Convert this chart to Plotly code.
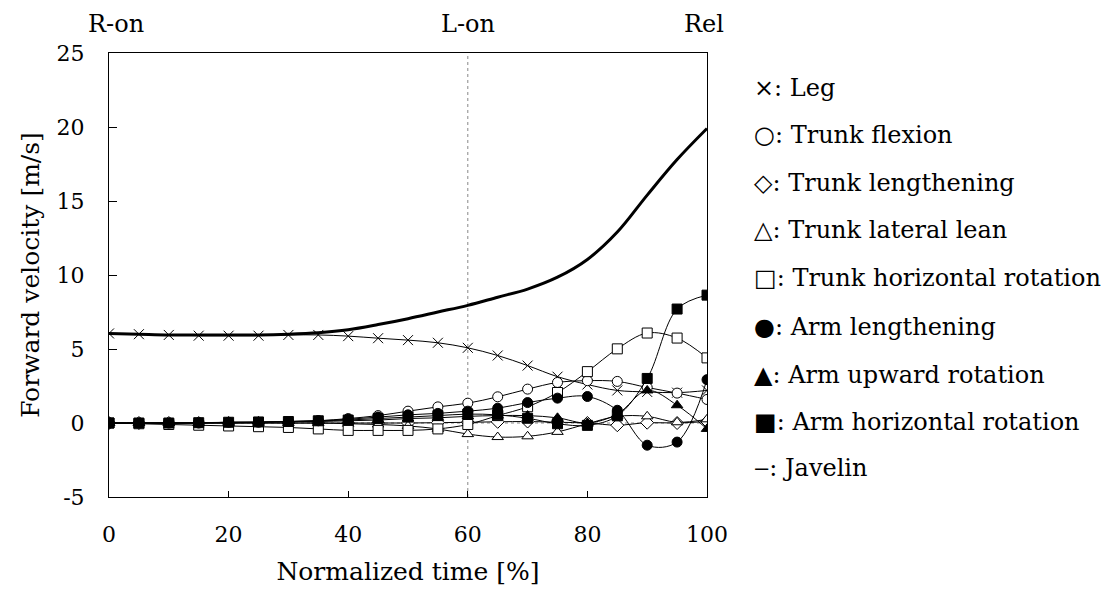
import plotly.graph_objects as go

time_pct = [0, 5, 10, 15, 20, 25, 30, 35, 40, 45, 50, 55, 60, 65, 70, 75, 80, 85, 90, 95, 100]

leg = [6.05, 6.0, 5.95, 5.9, 5.9, 5.9, 5.95, 5.95, 5.87, 5.73, 5.6, 5.42, 5.08, 4.56, 3.88, 3.13, 2.6, 2.2, 2.1, 2.05, 2.2]
trunk_flexion = [0, 0, 0, 0, 0, 0.05, 0.1, 0.15, 0.3, 0.5, 0.8, 1.09, 1.34, 1.77, 2.29, 2.74, 2.86, 2.81, 2.4, 2.02, 1.59]
trunk_lengthening = [0, 0, 0, 0, 0, 0, 0, 0, 0, 0, 0, 0.02, 0.05, 0.08, 0.1, 0.05, 0.0, -0.15, 0.02, 0.0, 0.1]
trunk_lateral = [0, 0, 0, 0, 0, 0, 0, 0, -0.05, -0.1, -0.2, -0.4, -0.75, -0.95, -0.9, -0.6, -0.05, 0.45, 0.45, 0.05, 0.25]
trunk_horizontal = [0, -0.05, -0.1, -0.15, -0.2, -0.25, -0.3, -0.4, -0.5, -0.5, -0.5, -0.4, -0.1, 0.5, 1.1, 2.06, 3.47, 5.01, 6.08, 5.74, 4.4]
arm_lengthening = [0, 0, 0, 0, 0.05, 0.05, 0.1, 0.15, 0.25, 0.4, 0.55, 0.65, 0.8, 1.0, 1.38, 1.68, 1.79, 0.86, -1.5, -1.29, 2.93]
arm_upward = [0, 0, 0, 0, 0.05, 0.05, 0.1, 0.1, 0.15, 0.2, 0.3, 0.35, 0.45, 0.5, 0.5, 0.35, 0.0, 0.6, 2.2, 1.2, -0.4]
arm_horizontal = [0, 0, 0, 0.02, 0.05, 0.07, 0.1, 0.15, 0.2, 0.3, 0.4, 0.5, 0.6, 0.55, 0.32, -0.05, -0.16, 0.48, 3.01, 7.7, 8.64]
javelin = [6.05, 6.0, 5.95, 5.95, 5.95, 5.95, 6.0, 6.1, 6.3, 6.65, 7.05, 7.5, 7.95, 8.5, 9.05, 9.85, 11.05, 12.9, 15.4, 17.8, 19.9]

legend_labels = ["×: Leg", "○: Trunk flexion", "◇: Trunk lengthening", "△: Trunk lateral lean",
                 "□: Trunk horizontal rotation", "●: Arm lengthening", "▲: Arm upward rotation",
                 "■: Arm horizontal rotation", "‒: Javelin"]
phase_labels = ["R-on", "L-on", "Rel"]
phase_x = [0, 60, 100]
y_ticks = [-5, 0, 5, 10, 15, 20, 25]
x_ticks = [0, 20, 40, 60, 80, 100]

FONT = "DejaVu Serif"
PL, PT, PW, PH = 109, 53, 598, 444
OFF = 8

fig = go.Figure()

series = [
    (leg, "x-thin-open", "black"),
    (trunk_flexion, "circle", "white"),
    (trunk_lengthening, "diamond", "white"),
    (trunk_lateral, "triangle-up", "white"),
    (trunk_horizontal, "square", "white"),
    (arm_lengthening, "circle", "black"),
    (arm_upward, "triangle-up", "black"),
    (arm_horizontal, "square", "black"),
]
for vals, sym, fill in series:
    fig.add_trace(go.Scatter(
        x=time_pct, y=vals, mode="lines+markers",
        line=dict(color="black", width=1, shape="spline", smoothing=1.0),
        marker=dict(symbol=sym, size=10, color=fill, line=dict(color="black", width=1)),
        showlegend=False, hoverinfo="skip"))

fig.add_trace(go.Scatter(x=time_pct, y=javelin, mode="lines",
                         line=dict(color="black", width=3, shape="spline", smoothing=1.0),
                         showlegend=False, hoverinfo="skip"))

fig.add_shape(type="line", xref="x", yref="paper", x0=60, x1=60, y0=0, y1=1,
              line=dict(color="#888888", width=1, dash="dot"), layer="below")
fig.add_shape(type="line", xref="paper", yref="y", x0=0, x1=1, y0=0, y1=0,
              line=dict(color="#888888", width=1, dash="dot"), layer="below")

phase_shift = [7, 0, -3]
for lab, xv, xs in zip(phase_labels, phase_x, phase_shift):
    fig.add_annotation(text=lab, x=xv, xref="x", y=(PT + PH - 24) / PH, yref="paper", showarrow=False,
                       xanchor="center", yanchor="middle", xshift=xs,
                       font=dict(family=FONT, size=24, color="black"))

row_px = [88, 135, 183, 230, 278, 327, 375, 422, 468]
for lab, py in zip(legend_labels, row_px):
    fig.add_annotation(text=lab, x=(752 - PL) / PW, xref="paper", y=(PT + PH - py) / PH, yref="paper",
                       showarrow=False, xanchor="left", yanchor="middle",
                       font=dict(family=FONT, size=24, color="black"))

fig.update_layout(
    width=1112, height=593,
    margin=dict(l=PL - OFF, r=1112 - (PL - OFF) - PW, t=PT - OFF, b=593 - (PT - OFF) - PH),
    paper_bgcolor="white", plot_bgcolor="white",
    font=dict(family=FONT, size=21, color="black"),
    xaxis=dict(range=[0, 100], tickvals=x_ticks, ticktext=[str(v) for v in x_ticks],
               tickfont=dict(family=FONT, size=22, color="black"),
               showgrid=False, zeroline=False, showline=True, linecolor="black", linewidth=1,
               mirror=True, ticks="inside", ticklen=6, tickcolor="black", ticklabelstandoff=18,
               automargin=False,
               title=dict(text="Normalized time [%]", standoff=16)),
    yaxis=dict(range=[-5, 25], tickvals=y_ticks, ticktext=[str(v) for v in y_ticks],
               tickfont=dict(family=FONT, size=22, color="black"),
               showgrid=False, zeroline=False, showline=True, linecolor="black", linewidth=1,
               mirror=True, ticks="inside", ticklen=8, tickcolor="black", ticklabelstandoff=19,
               automargin=False,
               title=dict(text="Forward velocity [m/s]", standoff=9)),
)

fig.write_html("out.html")
